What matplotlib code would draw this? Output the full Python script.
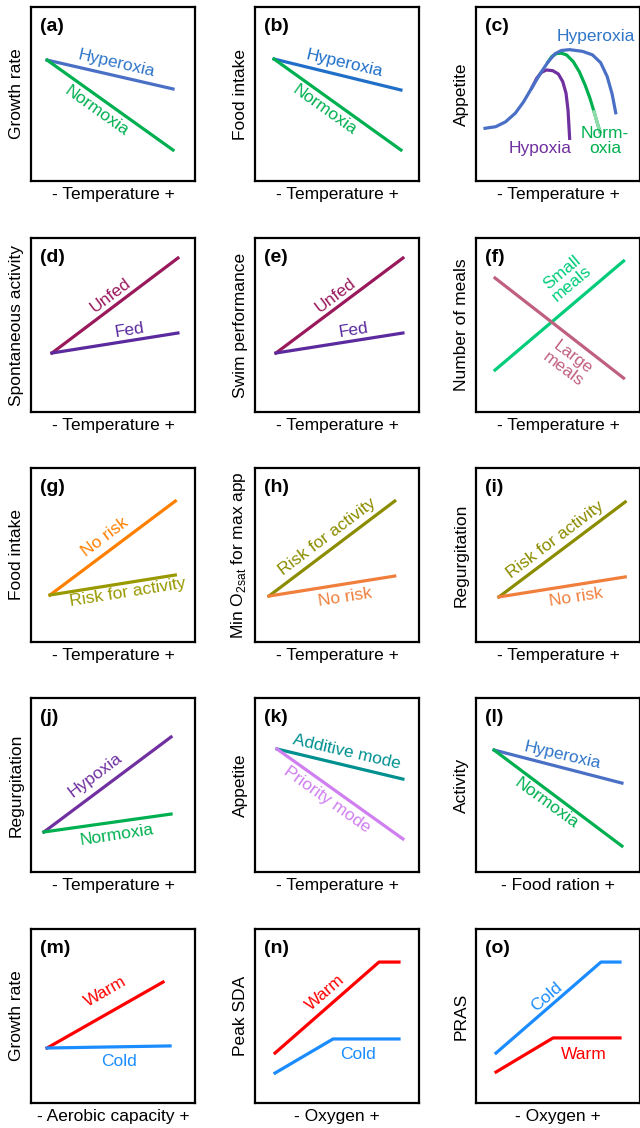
import matplotlib
matplotlib.use('Agg')
import matplotlib.pyplot as plt

plt.rcParams['font.family'] = ['Liberation Sans', 'DejaVu Sans']

# ---- data (axes run 0..10 in both directions) ----
# (a) growth rate vs temperature
a_x = [0.98, 8.66]
a_hyper = [6.95, 5.29]
a_normo = [6.95, 1.78]
# (b) food intake vs temperature
b_x = [1.16, 8.90]
b_hyper = [7.01, 5.23]
b_normo = [7.01, 1.78]
# (c) appetite curves
c_hyper_x = [0.55, 1.20, 1.80, 2.40, 2.90, 3.40, 3.90, 4.40, 4.80, 5.20, 5.70, 6.50, 7.10, 7.60, 8.00, 8.30, 8.52]
c_hyper_y = [3.03, 3.12, 3.40, 3.90, 4.55, 5.35, 6.15, 6.85, 7.30, 7.50, 7.55, 7.45, 7.25, 6.80, 6.00, 5.00, 3.92]
c_hypo_x = [3.40, 3.70, 4.00, 4.30, 4.68, 5.02, 5.29, 5.49, 5.61, 5.67, 5.71]
c_hypo_y = [5.35, 5.90, 6.25, 6.38, 6.34, 6.15, 5.71, 5.04, 4.08, 3.12, 2.45]
c_normo_x = [4.40, 4.62, 4.92, 5.23, 5.53, 5.93, 6.30, 6.65, 6.95, 7.20, 7.40, 7.56]
c_normo_y = [6.85, 7.15, 7.33, 7.34, 7.24, 6.86, 6.28, 5.52, 4.75, 3.98, 3.32, 2.83]
# (d) spontaneous activity, (e) swim performance
d_x = [1.28, 8.96]
d_unfed = [3.39, 8.85]
d_fed = [3.39, 4.54]
e_x = [1.28, 9.02]
e_unfed = [3.39, 8.85]
e_fed = [3.39, 4.54]
# (f) number of meals
f_x = [1.16, 9.00]
f_small = [2.41, 8.68]
f_large = [7.70, 1.95]
# (g) food intake, risk
g_x = [1.16, 8.80]
g_norisk = [2.70, 8.10]
g_risk = [2.70, 3.85]
# (h) min O2sat for max appetite
h_x = [0.85, 8.52]
h_risk = [2.64, 8.10]
h_norisk = [2.64, 3.79]
# (i) regurgitation, risk
i_x = [1.40, 9.10]
i_risk = [2.59, 8.05]
i_norisk = [2.59, 3.74]
# (j) regurgitation, oxygen
j_x = [0.79, 8.54]
j_hypo = [2.30, 7.76]
j_normo = [2.30, 3.33]
# (k) appetite, modes
k_x = [1.34, 9.02]
k_add = [7.07, 5.34]
k_prio = [7.07, 1.90]
# (l) activity vs food ration
l_x = [1.10, 8.90]
l_hyper = [7.01, 5.11]
l_normo = [7.01, 1.49]
# (m) growth rate vs aerobic capacity
m_x = [0.98, 8.05]
m_warm = [3.16, 6.95]
m_cold_x = [0.98, 8.48]
m_cold = [3.16, 3.28]
# (n) peak SDA vs oxygen
n_warm_x = [1.22, 7.56, 8.78]
n_warm = [2.87, 8.10, 8.10]
n_cold_x = [1.22, 4.76, 8.78]
n_cold = [1.72, 3.68, 3.68]
# (o) PRAS vs oxygen
o_cold_x = [1.22, 7.62, 8.78]
o_cold = [2.87, 8.10, 8.10]
o_warm_x = [1.22, 4.70, 8.78]
o_warm = [1.78, 3.74, 3.74]

# colours
HYPER = '#4a70c6'
HYPER_B = '#1f6fc8'
HYPER_T = '#2f75c8'
NORMO = '#00b050'
HYPO = '#7030a0'
UNFED = '#99195c'
FED = '#5b2a9e'
SMALL = '#00cc7a'
LARGE = '#c06080'
ORANGE = '#ff8000'
ORANGE2 = '#f07f3c'
OLIVE = '#999900'
OLIVE2 = '#8c8c00'
TEAL = '#009090'
VIOLET = '#d07ff0'
WARM = '#ff0000'
COLD = '#1a8cff'

FS = 12.5
LW = 2.3

fig = plt.figure(figsize=(6.4, 11.28), dpi=100)

col_left = [31, 255, 476]
row_bottom = [181, 412, 642, 872, 1103]


def panel(r, c, tag, ylabel, xlabel):
    ax = fig.add_axes([col_left[c] / 640, 1 - row_bottom[r] / 1128, 164 / 640, 174 / 1128])
    ax.set_xlim(0, 10)
    ax.set_ylim(0, 10)
    ax.set_xticks([])
    ax.set_yticks([])
    for s in ax.spines.values():
        s.set_linewidth(1.6)
    ax.set_xlabel(xlabel, fontsize=FS, labelpad=4)
    ax.set_ylabel(ylabel, fontsize=FS, labelpad=5)
    ax.text(0.55, 8.9, tag, fontsize=14, fontweight='bold', va='center', ha='left')
    return ax


def label(ax, x, y, s, color, rot=0):
    ax.text(x, y, s, color=color, fontsize=FS, rotation=rot, ha='center', va='center',
            rotation_mode='anchor', multialignment='center', linespacing=1.0)


T = '- Temperature +'

ax = panel(0, 0, '(a)', 'Growth rate', T)
ax.plot(a_x, a_hyper, color=HYPER, lw=LW)
ax.plot(a_x, a_normo, color=NORMO, lw=LW)
label(ax, 5.24, 6.78, 'Hyperoxia', HYPER_T, -13)
label(ax, 4.02, 4.02, 'Normoxia', NORMO, -35.5)

ax = panel(0, 1, '(b)', 'Food intake', T)
ax.plot(b_x, b_hyper, color=HYPER_B, lw=LW)
ax.plot(b_x, b_normo, color=NORMO, lw=LW)
label(ax, 5.43, 6.78, 'Hyperoxia', HYPER_B, -13)
label(ax, 4.27, 4.08, 'Normoxia', NORMO, -35.5)

ax = panel(0, 2, '(c)', 'Appetite', T)
ax.plot(c_hypo_x, c_hypo_y, color=HYPO, lw=LW)
ax.plot(c_normo_x, c_normo_y, color=NORMO, lw=LW)
ax.plot(c_normo_x[-3:], c_normo_y[-3:], color='#8fdcaa', lw=LW)
ax.plot(c_hyper_x, c_hyper_y, color=HYPER, lw=LW)
label(ax, 7.32, 8.33, 'Hyperoxia', HYPER_T)
label(ax, 3.90, 1.84, 'Hypoxia', HYPO)
label(ax, 7.87, 2.30, 'Norm-\noxia', NORMO)

ax = panel(1, 0, '(d)', 'Spontaneous activity', T)
ax.plot(d_x, d_unfed, color=UNFED, lw=LW)
ax.plot(d_x, d_fed, color=FED, lw=LW)
label(ax, 4.82, 6.72, 'Unfed', UNFED, 37)
label(ax, 6.04, 4.71, 'Fed', FED, 9)

ax = panel(1, 1, '(e)', 'Swim performance', T)
ax.plot(e_x, e_unfed, color=UNFED, lw=LW)
ax.plot(e_x, e_fed, color=FED, lw=LW)
label(ax, 4.88, 6.72, 'Unfed', UNFED, 37)
label(ax, 6.04, 4.71, 'Fed', FED, 9)

ax = panel(1, 2, '(f)', 'Number of meals', T)
ax.plot(f_x, f_small, color=SMALL, lw=LW)
ax.plot(f_x, f_large, color=LARGE, lw=LW)
label(ax, 5.55, 7.70, 'Small\nmeals', SMALL, 40)
label(ax, 5.61, 2.82, 'Large\nmeals', LARGE, -37)

ax = panel(2, 0, '(g)', 'Food intake', T)
ax.plot(g_x, g_norisk, color=ORANGE, lw=LW)
ax.plot(g_x, g_risk, color=OLIVE, lw=LW)
label(ax, 4.51, 6.03, 'No risk', ORANGE, 37)
label(ax, 5.91, 2.87, 'Risk for activity', OLIVE, 9)

ax = panel(2, 1, '(h)', 'Min O$_{\\mathregular{2sat}}$ for max app', T)
ax.plot(h_x, h_risk, color=OLIVE2, lw=LW)
ax.plot(h_x, h_norisk, color=ORANGE2, lw=LW)
label(ax, 4.39, 6.03, 'Risk for activity', OLIVE2, 37)
label(ax, 5.49, 2.59, 'No risk', ORANGE2, 9)

ax = panel(2, 2, '(i)', 'Regurgitation', T)
ax.plot(i_x, i_risk, color=OLIVE2, lw=LW)
ax.plot(i_x, i_norisk, color=ORANGE2, lw=LW)
label(ax, 4.82, 5.86, 'Risk for activity', OLIVE2, 37)
label(ax, 6.10, 2.59, 'No risk', ORANGE2, 9)

ax = panel(3, 0, '(j)', 'Regurgitation', T)
ax.plot(j_x, j_hypo, color=HYPO, lw=LW)
ax.plot(j_x, j_normo, color=NORMO, lw=LW)
label(ax, 3.90, 5.57, 'Hypoxia', HYPO, 37)
label(ax, 5.24, 2.13, 'Normoxia', NORMO, 8.6)

ax = panel(3, 1, '(k)', 'Appetite', T)
ax.plot(k_x, k_add, color=TEAL, lw=LW)
ax.plot(k_x, k_prio, color=VIOLET, lw=LW)
label(ax, 5.61, 6.90, 'Additive mode', TEAL, -13)
label(ax, 4.39, 4.14, 'Priority mode', VIOLET, -35.5)

ax = panel(3, 2, '(l)', 'Activity', '- Food ration +')
ax.plot(l_x, l_hyper, color=HYPER, lw=LW)
ax.plot(l_x, l_normo, color=NORMO, lw=LW)
label(ax, 5.30, 6.72, 'Hyperoxia', HYPER_T, -13)
label(ax, 4.27, 3.97, 'Normoxia', NORMO, -36)

ax = panel(4, 0, '(m)', 'Growth rate', '- Aerobic capacity +')
ax.plot(m_x, m_warm, color=WARM, lw=LW)
ax.plot(m_cold_x, m_cold, color=COLD, lw=LW)
label(ax, 4.57, 6.38, 'Warm', WARM, 30)
label(ax, 5.37, 2.36, 'Cold', COLD)

ax = panel(4, 1, '(n)', 'Peak SDA', '- Oxygen +')
ax.plot(n_warm_x, n_warm, color=WARM, lw=LW)
ax.plot(n_cold_x, n_cold, color=COLD, lw=LW)
label(ax, 4.27, 6.32, 'Warm', WARM, 41)
label(ax, 6.28, 2.76, 'Cold', COLD)

ax = panel(4, 2, '(o)', 'PRAS', '- Oxygen +')
ax.plot(o_cold_x, o_cold, color=COLD, lw=LW)
ax.plot(o_warm_x, o_warm, color=WARM, lw=LW)
label(ax, 4.33, 6.09, 'Cold', COLD, 41)
label(ax, 6.59, 2.76, 'Warm', WARM)

fig.savefig('out.png', dpi=100)
